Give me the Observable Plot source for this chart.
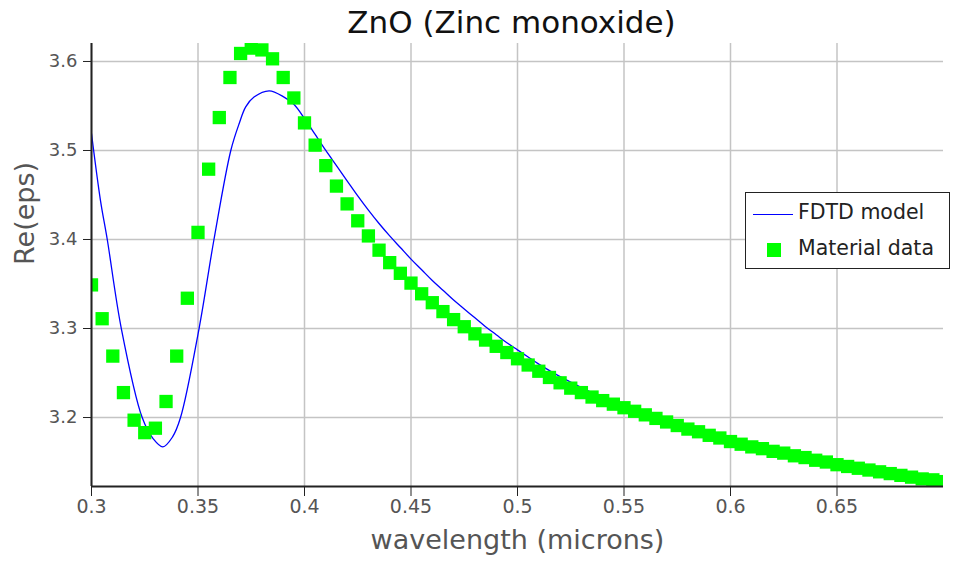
<!DOCTYPE html>
<html>
<head>
<meta charset="utf-8">
<script src="https://cdn.jsdelivr.net/npm/d3@7"></script>
<script src="https://cdn.jsdelivr.net/npm/@observablehq/plot@0.6"></script>
<style>
  html, body { margin: 0; padding: 0; background: #fff; }
  #wrap { position: relative; width: 953px; height: 563px; font-family: "DejaVu Sans", sans-serif; }
  #title { height: 40px; line-height: 45px; font-size: 31px; color: #111; text-align: center; padding-left: 70px; box-sizing: border-box; white-space: nowrap; }
  #legend { position: absolute; left: 745px; top: 192px; width: 205px; height: 77px; box-sizing: border-box; border: 1px solid #222; background: #fff; font-size: 20.5px; color: #222; }
  #legend .row { position: absolute; left: 52px; white-space: nowrap; line-height: 24px; }
  #legend .ln { position: absolute; left: 7px; top: 21px; width: 40px; height: 0; border-top: 1.3px solid #0000ff; }
  #legend .sq { position: absolute; left: 21px; top: 50px; width: 14px; height: 14px; background: #00ff00; }
</style>
</head>
<body>
<div id="wrap">
  <div id="title"></div>
  <div id="chart"></div>
  <div id="legend">
    <div class="ln"></div><div class="row" id="lg1" style="top:7px"></div>
    <div class="sq"></div><div class="row" id="lg2" style="top:43px"></div>
  </div>
</div>
<script>
const titleText = "ZnO (Zinc monoxide)";
const xLabel = "wavelength (microns)";
const yLabel = "Re(eps)";
const seriesNames = ["FDTD model", "Material data"];

const xTicks = [0.3, 0.35, 0.4, 0.45, 0.5, 0.55, 0.6, 0.65];
const xTickLabels = ["0.3", "0.35", "0.4", "0.45", "0.5", "0.55", "0.6", "0.65"];
const yTicks = [3.2, 3.3, 3.4, 3.5, 3.6];
const yTickLabels = ["3.2", "3.3", "3.4", "3.5", "3.6"];
const xDomain = [0.3, 0.7];
const yDomain = [3.1225, 3.6202];

// Material data (green squares)
const matWavelength = [
  0.300, 0.305, 0.310, 0.315, 0.320, 0.325, 0.330, 0.335, 0.340, 0.345,
  0.350, 0.355, 0.360, 0.365, 0.370, 0.375, 0.380, 0.385, 0.390, 0.395,
  0.400, 0.405, 0.410, 0.415, 0.420, 0.425, 0.430, 0.435, 0.440, 0.445,
  0.450, 0.455, 0.460, 0.465, 0.470, 0.475, 0.480, 0.485, 0.490, 0.495,
  0.500, 0.505, 0.510, 0.515, 0.520, 0.525, 0.530, 0.535, 0.540, 0.545,
  0.550, 0.555, 0.560, 0.565, 0.570, 0.575, 0.580, 0.585, 0.590, 0.595,
  0.600, 0.605, 0.610, 0.615, 0.620, 0.625, 0.630, 0.635, 0.640, 0.645,
  0.650, 0.655, 0.660, 0.665, 0.670, 0.675, 0.680, 0.685, 0.690, 0.695,
  0.700
];
const matEps = [
  3.349, 3.311, 3.269, 3.228, 3.197, 3.183, 3.188, 3.218, 3.269, 3.334,
  3.408, 3.479, 3.537, 3.582, 3.609, 3.615, 3.613, 3.603, 3.582, 3.559,
  3.531, 3.506, 3.483, 3.460, 3.440, 3.421, 3.404, 3.388, 3.374, 3.362,
  3.351, 3.339, 3.329, 3.319, 3.310, 3.302, 3.294, 3.287, 3.280, 3.273,
  3.266, 3.259, 3.252, 3.245, 3.239, 3.233, 3.228, 3.223, 3.219, 3.215,
  3.211, 3.207, 3.203, 3.199, 3.195, 3.191, 3.187, 3.184, 3.180, 3.177,
  3.173, 3.170, 3.167, 3.165, 3.162, 3.160, 3.157, 3.155, 3.152, 3.150,
  3.147, 3.145, 3.143, 3.141, 3.139, 3.137, 3.135, 3.133, 3.131, 3.130,
  3.128
];

// FDTD model (blue line)
const fdtdWavelength = [
  0.3000, 0.3042, 0.3074, 0.3140, 0.3238, 0.3290, 0.3335, 0.3380, 0.3418, 0.3505,
  0.3575, 0.3654, 0.3693, 0.3724, 0.3763, 0.3834, 0.3904, 0.3950, 0.4000, 0.4050,
  0.4100, 0.4150, 0.4200, 0.4250, 0.4300, 0.4350, 0.4400, 0.4450, 0.4500, 0.4550,
  0.4600, 0.4650, 0.4700, 0.4750, 0.4800, 0.4850, 0.4900, 0.4950, 0.5000, 0.5050,
  0.5100, 0.5200, 0.5500, 0.6000, 0.6500, 0.7000
];
const fdtdEps = [
  3.519, 3.444, 3.400, 3.300, 3.200, 3.176, 3.167, 3.178, 3.200, 3.300,
  3.400, 3.500, 3.530, 3.549, 3.560, 3.567, 3.560, 3.552, 3.536, 3.518,
  3.500, 3.483, 3.466, 3.449, 3.433, 3.418, 3.404, 3.391, 3.378, 3.366,
  3.354, 3.343, 3.332, 3.322, 3.312, 3.302, 3.293, 3.284, 3.276, 3.268,
  3.260, 3.246, 3.212, 3.174, 3.148, 3.129
];

const mat = matWavelength.map((w, i) => ({w, v: matEps[i]}));
const fdtd = fdtdWavelength.map((w, i) => ({w, v: fdtdEps[i]}));

document.getElementById("title").textContent = titleText;
document.getElementById("lg1").textContent = seriesNames[0];
document.getElementById("lg2").textContent = seriesNames[1];

const chart = Plot.plot({
  width: 953,
  height: 523,
  marginTop: 3,
  marginBottom: 77,
  marginLeft: 91,
  marginRight: 10,
  style: {fontFamily: "DejaVu Sans, sans-serif", background: "#fff", overflow: "visible"},
  x: {domain: xDomain, label: null},
  y: {domain: yDomain, label: null},
  marks: [
    Plot.gridX(xTicks, {stroke: "#c4c4c4", strokeOpacity: 1, strokeWidth: 1.5}),
    Plot.gridY(yTicks, {stroke: "#c4c4c4", strokeOpacity: 1, strokeWidth: 1.5}),
    Plot.line(fdtd, {x: "w", y: "v", stroke: "#0000ff", strokeWidth: 1.3, curve: "catmull-rom", clip: true}),
    Plot.dot(mat, {x: "w", y: "v", symbol: "square", r: 7.5, fill: "#00ff00", stroke: "none", clip: true}),
    Plot.ruleX([xDomain[0]], {stroke: "#222", strokeWidth: 2}),
    Plot.ruleY([yDomain[0]], {stroke: "#222", strokeWidth: 2}),
    Plot.axisX({ticks: xTicks, tickFormat: (d, i) => xTickLabels[i], tickSize: 10, tickPadding: 3, fontSize: 19, stroke: "#222", fill: "#555", label: null}),
    Plot.axisY({ticks: yTicks, tickFormat: (d, i) => yTickLabels[i], tickSize: 8, tickPadding: 6, fontSize: 18, stroke: "#222", fill: "#555", label: null}),
    Plot.text([xLabel], {frameAnchor: "bottom", dy: 54, lineAnchor: "middle", fontSize: 27, fill: "#555"}),
    Plot.text([yLabel], {frameAnchor: "left", dx: -66.5, rotate: -90, fontSize: 27, fill: "#555"})
  ]
});
document.getElementById("chart").appendChild(chart);
</script>
</body>
</html>
